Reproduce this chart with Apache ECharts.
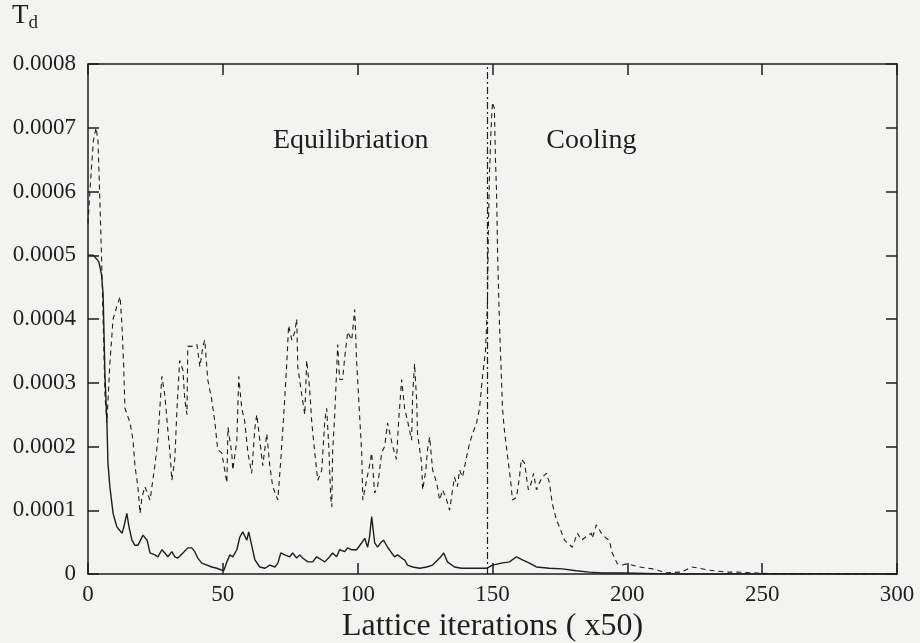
<!DOCTYPE html>
<html>
<head>
<meta charset="utf-8">
<script src="https://cdn.jsdelivr.net/npm/echarts@6/dist/echarts.min.js"></script>
<style>html,body{margin:0;padding:0;background:#f3f3f2;}#c{width:920px;height:643px;}</style>
</head>
<body>
<div id="c"></div>
<script>
// ---- data ----
const xTicks = [0, 50, 100, 150, 200, 250, 300];
const yTicks = [0, 0.0001, 0.0002, 0.0003, 0.0004, 0.0005, 0.0006, 0.0007, 0.0008];
const coolingStart = 148;

const dashX = [0,1,2,3,3.7,4.3,5,5.6,6.3,7,8.1,9.3,10.7,11.9,12.6,13.2,13.7,15.6,16.7,17.4,18.5,19.3,20,21.1,23,23.7,24.8,25.9,27.4,28.5,29.6,30.4,31.1,32.2,33,34,35.2,35.9,36.7,37,38.5,40.4,41.5,42.6,43.3,44.4,45.9,47,48.1,49.6,50.7,51.5,51.9,53.3,53.7,55.2,55.9,57,58.1,59.3,60.7,61.9,62.6,63.7,64.8,66.3,67.4,68.5,70.4,71.5,72.6,73.7,74.4,75.6,76.7,77.4,77.8,79.3,80.4,81.1,82.2,83,84.1,85.2,86.7,87.8,88.5,89.3,90,90.4,90.7,91.5,92.6,93.3,94.4,95.2,96.3,97.8,98.9,99.6,100,100.7,101.5,101.9,103.3,104.4,105.2,106.3,107.4,108.9,110,111.1,113,114.4,115.2,116.3,117.4,118.5,120,120.4,121.1,121.9,122.2,123.7,124.1,125.2,125.9,126.7,127.8,129.3,130.4,131.5,133,134.1,135.2,135.9,137,137.8,138.9,140.4,141.5,142.6,144.1,145.2,146.3,147.4,148.1,148.5,148.9,149.3,149.6,150,150.7,151.1,151.5,151.9,152.6,153.3,153.7,154.4,155.6,156.7,157.4,158.9,160,160.7,161.9,162.6,163.3,164.4,165.2,166.3,167.4,168.5,170,171.1,172.2,173.7,174.8,176.7,179.6,181.5,183,185.2,186.7,187,188.5,190.4,192.2,193.3,194.4,196.3,198.1,200,204.4,209.3,214.4,220,224,226.7,230.4,236.7,240.4,245.9,250,260,300];
const dashY = [0.00055,0.00062,0.00068,0.0007,0.00068,0.0006,0.0005,0.0004,0.00028,0.000237,0.00033,0.0004,0.00042,0.000435,0.00039,0.00033,0.00026,0.000237,0.00021,0.00017,0.000137,0.000095,0.00012,0.000137,0.000116,0.000137,0.00017,0.00021,0.00031,0.00028,0.000226,0.00019,0.000147,0.00018,0.00026,0.000335,0.00032,0.000273,0.00025,0.000357,0.000357,0.00036,0.000325,0.000357,0.000367,0.000305,0.000273,0.00024,0.000195,0.00019,0.000163,0.000143,0.00023,0.00019,0.000163,0.00021,0.00031,0.00026,0.00024,0.00019,0.000158,0.00023,0.00025,0.00021,0.00017,0.00022,0.00017,0.000137,0.000116,0.00018,0.00025,0.00033,0.00039,0.000367,0.00038,0.0004,0.000325,0.00028,0.00025,0.000335,0.00029,0.000237,0.00019,0.000147,0.000163,0.00024,0.00026,0.0002,0.00012,0.000105,0.00019,0.00025,0.00036,0.000305,0.000305,0.00034,0.00038,0.000367,0.000415,0.000335,0.000305,0.00025,0.00019,0.000116,0.000147,0.00017,0.00019,0.000127,0.000137,0.00019,0.0002,0.000237,0.0002,0.00018,0.00024,0.000305,0.00026,0.00024,0.00021,0.00028,0.00033,0.00027,0.00022,0.000174,0.000132,0.00016,0.000195,0.000215,0.000163,0.000143,0.000116,0.000132,0.000116,0.0001,0.000132,0.000152,0.000137,0.000163,0.000152,0.000184,0.000205,0.00022,0.000237,0.00026,0.00031,0.00035,0.00042,0.00055,0.00063,0.00068,0.00071,0.00074,0.00073,0.00065,0.0006,0.0005,0.00039,0.00031,0.00026,0.000226,0.000184,0.000147,0.000116,0.00012,0.000152,0.00018,0.000174,0.000152,0.000132,0.000143,0.000158,0.000132,0.000143,0.000152,0.000158,0.000143,0.00011,0.000085,0.000074,0.000053,0.000042,0.000064,0.000053,0.00006,0.000064,0.000056,0.000077,0.000064,0.000056,0.000053,0.000033,0.000016,0.000014,0.000016,0.000011,0.000008,0.000002,0.000003,0.000011,0.000009,0.000006,0.000003,0.000003,0.000002,0.000001,0.0000005,0];

const solidX = [0,2,4,5,5.6,6.3,7,7.4,8.1,9.3,10.7,12.6,13.3,14.4,15.2,16.3,17.4,18.5,20.4,21.9,23,24.8,25.9,27.4,28.5,29.6,31.1,32.2,33.3,35.2,37,38.5,39.6,40.7,42.2,44.1,45.9,47.8,49.6,50.4,51.5,52.6,53.7,55.2,56.3,57.4,58.9,59.6,60.7,61.9,63.7,65.6,67.4,69.3,70.4,71.5,73,74.8,75.9,77.4,78.5,79.6,81.5,83.3,84.8,85.2,86.7,87.8,89.6,90.7,92.2,93.3,95.2,96.3,97.8,99.6,101.5,102.6,103.7,104.4,105.2,106.3,107.4,108.5,109.6,111.1,112.6,113.7,114.8,116.3,117.4,118.5,120.4,123,125.6,127.8,130.4,131.9,133.3,135.9,138.5,141.5,144.4,147.8,150,153.3,156.3,158.9,161.1,163.7,166.3,171.1,175.9,181.1,185.9,190.7,198.1,215.6,300];
const solidY = [0.0005,0.0005,0.00049,0.00047,0.00044,0.00031,0.00024,0.000174,0.000137,0.000095,0.000074,0.000064,0.000074,0.000095,0.000074,0.000053,0.000045,0.000045,0.000061,0.000053,0.000033,0.00003,0.000027,0.000038,0.000033,0.000027,0.000035,0.000027,0.000025,0.000033,0.000041,0.000041,0.000035,0.000025,0.000017,0.000014,0.000011,0.000009,0.000006,0.000006,0.000019,0.00003,0.000027,0.000038,0.000058,0.000066,0.000053,0.000066,0.000045,0.000022,0.000011,0.000009,0.000014,0.000011,0.000017,0.000033,0.00003,0.000027,0.000033,0.000025,0.00003,0.000025,0.000019,0.000019,0.000027,0.00003,0.000022,0.000019,0.000027,0.000033,0.000027,0.000038,0.000035,0.000041,0.000038,0.000038,0.000049,0.000056,0.000042,0.000058,0.00009,0.000049,0.000042,0.000049,0.000053,0.000042,0.000033,0.000027,0.00003,0.000025,0.000022,0.000014,0.000011,0.000009,0.000011,0.000014,0.000025,0.000033,0.000019,0.000011,0.000009,0.000009,0.000009,0.000009,0.000014,0.000017,0.000019,0.000027,0.000022,0.000017,0.000011,0.000009,0.000008,0.000005,0.000003,0.0000016,0.0000016,0,0];

const phaseLabels = [
  {name: 'Equilibriation', x: 97.4, y: 0.00068},
  {name: 'Cooling', x: 186.7, y: 0.00068}
];

// ---- chart ----
const FONT = '"Liberation Serif", "DejaVu Serif", serif';
const ink = '#1e1e1e';
const chart = echarts.init(document.getElementById('c'), null, {renderer: 'canvas'});

const axisCommon = {
  type: 'value',
  axisLine: {show: true, onZero: false, lineStyle: {color: ink, width: 1.5}},
  axisTick: {show: true, inside: true, length: 11, lineStyle: {color: ink, width: 1.5}},
  splitLine: {show: false}
};

const option = {
  backgroundColor: '#f3f3f2',
  animation: false,
  grid: {left: 88, right: 23, top: 64, bottom: 69, containLabel: false, outerBoundsMode: 'none'},
  graphic: [{
    type: 'text', left: 12, top: 2,
    style: {
      text: '{t|T}{s|d}',
      rich: {t: {fontFamily: FONT, fontSize: 27, fill: ink},
             s: {fontFamily: FONT, fontSize: 19, fill: ink, padding: [16, 0, 0, 0]}}
    }
  }],
  xAxis: [
    Object.assign({}, axisCommon, {
      min: xTicks[0], max: xTicks[xTicks.length - 1], interval: 50,
      position: 'bottom',
      axisLabel: {color: ink, fontFamily: FONT, fontSize: 23, margin: 9},
      name: 'Lattice iterations ( x50)', nameLocation: 'middle', nameGap: 33,
      nameTextStyle: {color: ink, fontFamily: FONT, fontSize: 32}
    }),
    Object.assign({}, axisCommon, {
      min: xTicks[0], max: xTicks[xTicks.length - 1], interval: 50,
      position: 'top', axisLabel: {show: false}
    })
  ],
  yAxis: [
    Object.assign({}, axisCommon, {
      min: yTicks[0], max: yTicks[yTicks.length - 1], interval: 0.0001,
      position: 'left',
      axisLabel: {color: ink, fontFamily: FONT, fontSize: 23, margin: 12,
        formatter: v => (v === 0 ? '0' : v.toFixed(4))}
    }),
    Object.assign({}, axisCommon, {
      min: yTicks[0], max: yTicks[yTicks.length - 1], interval: 0.0001,
      position: 'right', axisLabel: {show: false}
    })
  ],
  series: [
    {
      type: 'line', name: 'dashed', showSymbol: false, symbol: 'none',
      data: dashX.map((x, i) => [x, dashY[i]]),
      lineStyle: {color: ink, width: 1.1, type: [5, 4]},
      markLine: {
        silent: true, symbol: 'none', label: {show: false},
        lineStyle: {color: ink, width: 1.2, type: [7, 3, 2, 3]},
        data: [{xAxis: coolingStart}]
      },
      markPoint: {
        symbol: 'circle', symbolSize: 0,
        label: {show: true, position: 'inside', formatter: '{b}', color: ink, fontFamily: FONT, fontSize: 28},
        data: phaseLabels.map(p => ({name: p.name, coord: [p.x, p.y]}))
      }
    },
    {
      type: 'line', name: 'solid', showSymbol: false, symbol: 'none',
      data: solidX.map((x, i) => [x, solidY[i]]),
      lineStyle: {color: ink, width: 1.4, type: 'solid'}
    }
  ]
};
chart.setOption(option);
</script>
</body>
</html>
